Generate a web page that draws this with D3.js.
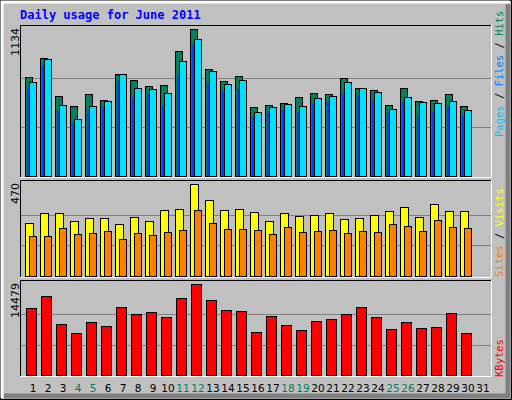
<!DOCTYPE html>
<html><head><meta charset="utf-8">
<script src="https://cdn.jsdelivr.net/npm/d3@7"></script>
<style>body{margin:0;background:#fff}svg{display:block}</style>
</head><body>
<script>
const days = d3.range(1, 32);
const weekend = [4,5,11,12,18,19,25,26];
const hits  = [764,910,617,540,633,586,787,741,694,702,964,1134,825,733,771,532,548,563,609,640,633,756,679,663,548,679,579,586,633,540];
const files = [725,903,548,440,540,579,787,679,671,640,887,1057,810,710,741,494,532,555,540,602,617,725,679,648,517,609,571,563,579,509];
const pages = [679,849,501,409,517,532,733,609,640,540,771,1011,717,648,671,455,501,509,494,555,571,640,625,594,486,571,463,494,532,463];
const visits= [270,321,321,280,296,296,265,301,280,337,342,470,388,337,342,326,280,321,306,311,321,291,296,311,332,352,301,367,332,332];
const sites = [203,203,244,214,219,229,188,219,209,224,234,337,270,239,239,234,214,250,224,229,234,219,229,224,265,255,229,285,250,244];
const kbytes= [10660,12570,8115,6683,8433,7796,10820,9706,10024,9229,12252,14479,11933,10342,10183,6842,9388,7956,7160,8592,8910,9706,10820,9229,7319,8433,7478,7637,9865,6683];
const maxLabels = ["1134","470","14479"];

const W=512,H=400;
const svg=d3.select("body").append("svg").attr("width",W).attr("height",H);
svg.append("rect").attr("width",W).attr("height",H).attr("fill","#C0C0C0");
// bevel
svg.append("rect").attr("x",0.5).attr("y",0.5).attr("width",W-1).attr("height",H-1).attr("fill","none").attr("stroke","#000");
svg.append("path").attr("d",`M2,${H-2}V2H${W-2}`).attr("stroke","#fff").attr("stroke-width",3).attr("fill","none");
svg.append("path").attr("d",`M${W-4},4V${H-4}H4`).attr("stroke","#808080").attr("stroke-width",5).attr("fill","none");

svg.append("text").attr("x",20).attr("y",19).text("Daily usage for June 2011")
 .attr("font-family","DejaVu Sans Mono").attr("font-weight","bold").attr("font-size",12).attr("fill","#0000FF");

const x = d3.scaleLinear().domain([1,31]).range([33,483]);
const L=20,R=491;
function panel(top,base,max,label){
  svg.append("rect").attr("x",L).attr("y",top).attr("width",R-L).attr("height",base-top+1).attr("fill","#C0C0C0");
  const y=d3.scaleLinear().domain([0,max]).range([base,base-(base-top-4)]);
  [1/3,2/3].forEach(f=>{const gy=Math.round(base-(base-top-4)*f*1.0)+0.5;
    svg.append("line").attr("x1",L).attr("x2",R).attr("y1",gy).attr("y2",gy).attr("stroke","#808080");});
  svg.append("path").attr("d",`M${L+0.5},${base+1}V${top+0.5}H${R}`).attr("stroke","#000").attr("fill","none");
  svg.append("path").attr("d",`M${R+0.5},${top}V${base+1.5}H${L}`).attr("stroke","#fff").attr("fill","none");
  svg.append("text").attr("transform",`translate(19,${top+3}) rotate(-90)`).attr("text-anchor","end")
    .attr("font-family","DejaVu Sans").attr("font-size",11).text(label);
  return y;
}
function bars(data,y,dx,w,color,base){
  svg.append("g").selectAll("rect").data(data).join("rect")
   .attr("x",(d,i)=>x(i+1)+dx+0.5).attr("width",w).attr("y",d=>Math.round(y(d))+0.5)
   .attr("height",d=>base-Math.round(y(d))).attr("fill",color).attr("stroke","#000");
}
const y1=panel(25,176,1134*1.0,maxLabels[0]);
bars(hits,y1,-8,7,"#00805C",176);
bars(files,y1,-4,7,"#00E0FF",176);
svg.append("g").selectAll("rect").data(pages).join("rect")
  .attr("x",(d,i)=>x(i+1)-6).attr("width",2).attr("y",d=>Math.round(y1(d))).attr("height",d=>176-Math.round(y1(d)))
  .attr("fill","#0040FF");
const y2=panel(180,276,470,maxLabels[1]);
bars(visits,y2,-8,8,"#FFFF00",276);
bars(sites,y2,-4,7,"#FF8000",276);
const y3=panel(280,375,14479,maxLabels[2]);
bars(kbytes,y3,-7,10,"#FF0000",375);

// day labels
svg.append("g").selectAll("text").data(days).join("text")
 .attr("x",d=>x(d)).attr("y",392).attr("text-anchor","middle")
 .attr("font-family","DejaVu Sans").attr("font-size",10.5)
 .attr("fill",d=>weekend.includes(d)?"#00805C":"#000").text(d=>d);

// right legends
function legend(parts,yEnd){
  const t=svg.append("text").attr("transform",`translate(503,${yEnd}) rotate(-90)`)
   .attr("font-family","DejaVu Sans Mono").attr("font-size",10.5);
  parts.forEach(([s,c])=>t.append("tspan").attr("fill",c).text(s));
}
legend([["Pages","#00C0FF"],[" / ","#000"],["Files","#0080FF"],[" / ","#000"],["Hits","#00805C"]],137);
legend([["Sites","#FF8000"],[" / ","#000"],["Visits","#FFFF00"]],277);
legend([["KBytes","#FF0000"]],377);
</script></body></html>
